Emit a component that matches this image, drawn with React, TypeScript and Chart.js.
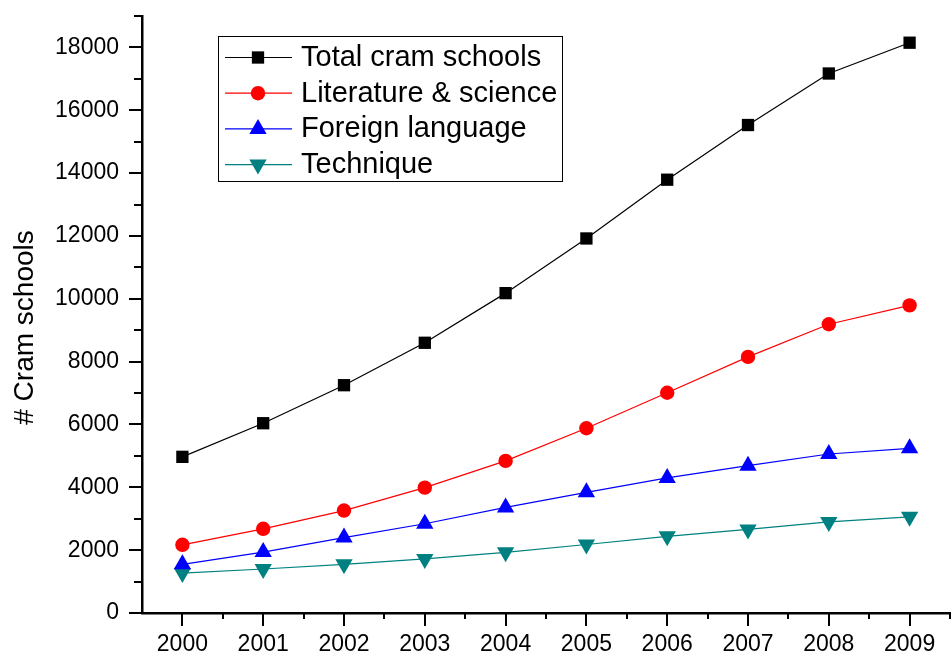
import React, { useEffect, useRef } from 'react';
import { Chart, registerables } from 'chart.js';
import { drawPoint } from 'chart.js/helpers';

Chart.register(...registerables);

const years = [2000, 2001, 2002, 2003, 2004, 2005, 2006, 2007, 2008, 2009];
const totalSchools = [4970, 6040, 7250, 8600, 10180, 11920, 13790, 15530, 17170, 18150];
const literatureScience = [2170, 2680, 3260, 3990, 4840, 5880, 7010, 8150, 9190, 9790];
const foreignLanguage = [1550, 1940, 2400, 2840, 3360, 3840, 4300, 4690, 5060, 5240];
const techniqueSchools = [1270, 1400, 1550, 1720, 1930, 2180, 2440, 2660, 2900, 3060];

const seriesLabels = ['Total cram schools', 'Literature & science', 'Foreign language', 'Technique'];
const yTickValues = [0, 2000, 4000, 6000, 8000, 10000, 12000, 14000, 16000, 18000];
const yMinorTickValues = [1000, 3000, 5000, 7000, 9000, 11000, 13000, 15000, 17000, 19000];
const yAxisTitle = '# Cram schools';

const FONT = '"Liberation Sans", Arial, Helvetica, sans-serif';

const axisTicksPlugin = {
  id: 'axisTicks',
  afterDraw(chart: any) {
    const { ctx, chartArea } = chart;
    const xs = chart.scales.x;
    const ys = chart.scales.y;
    ctx.save();
    ctx.strokeStyle = '#000';
    ctx.lineWidth = 2;
    ctx.lineCap = 'butt';
    const left = chartArea.left;
    const bottom = chartArea.bottom;
    const hline = (v: number, len: number) => {
      const p = Math.round(ys.getPixelForValue(v));
      ctx.beginPath();
      ctx.moveTo(left - len, p);
      ctx.lineTo(left, p);
      ctx.stroke();
    };
    const vline = (v: number, len: number) => {
      const p = Math.round(xs.getPixelForValue(v));
      ctx.beginPath();
      ctx.moveTo(p, bottom);
      ctx.lineTo(p, bottom + len);
      ctx.stroke();
    };
    yTickValues.forEach((v) => hline(v, 13));
    yMinorTickValues.forEach((v) => hline(v, 8));
    years.forEach((v) => vline(v, 13));
    years.forEach((v) => vline(v + 0.5, 6));
    ctx.restore();
  },
};

const yTitlePlugin = {
  id: 'yTitle',
  afterDraw(chart: any) {
    const { ctx, chartArea } = chart;
    ctx.save();
    ctx.translate(33, (chartArea.top + chartArea.bottom) / 2 + 13);
    ctx.rotate(-Math.PI / 2);
    ctx.fillStyle = '#000';
    ctx.font = `28px ${FONT}`;
    ctx.textAlign = 'center';
    ctx.textBaseline = 'alphabetic';
    ctx.fillText(yAxisTitle, 0, 0);
    ctx.restore();
  },
};

const boxLegendPlugin = {
  id: 'boxLegend',
  afterDraw(chart: any) {
    const { ctx } = chart;
    const boxX = 218.5;
    const boxY = 36.5;
    const boxW = 344;
    const boxH = 145;
    ctx.save();
    ctx.fillStyle = '#fff';
    ctx.fillRect(boxX, boxY, boxW, boxH);
    ctx.strokeStyle = '#000';
    ctx.lineWidth = 1;
    ctx.strokeRect(boxX, boxY, boxW, boxH);
    chart.data.datasets.forEach((ds: any, i: number) => {
      const y = 57.5 + i * 35.7;
      ctx.strokeStyle = ds.borderColor;
      ctx.lineWidth = ds.borderWidth;
      ctx.beginPath();
      ctx.moveTo(225, y);
      ctx.lineTo(292, y);
      ctx.stroke();
      ctx.fillStyle = ds.pointBackgroundColor;
      ctx.strokeStyle = ds.pointBackgroundColor;
      drawPoint(ctx, {
        pointStyle: ds.pointStyle,
        rotation: ds.pointRotation || 0,
        radius: ds.pointRadius,
        borderWidth: 0,
      } as any, 258, y);
      ctx.fillStyle = '#000';
      ctx.font = `29px ${FONT}`;
      ctx.textAlign = 'left';
      ctx.textBaseline = 'alphabetic';
      ctx.fillText(ds.label, 301, y + 8.5);
    });
    ctx.restore();
  },
};

function toPoints(values: number[]) {
  return years.map((x, i) => ({ x, y: values[i] }));
}

function makeDataset(label: string, values: number[], color: string, style: string, radius: number, rotation = 0) {
  return {
    label,
    data: toPoints(values),
    borderColor: color,
    borderWidth: 1.2,
    pointBackgroundColor: color,
    pointBorderColor: color,
    pointBorderWidth: 0,
    pointStyle: style,
    pointRadius: radius,
    pointRotation: rotation,
    fill: false,
    tension: 0,
  };
}

export default function App() {
  const canvasRef = useRef<HTMLCanvasElement | null>(null);

  useEffect(() => {
    document.body.style.margin = '0';
    const canvas = canvasRef.current;
    if (!canvas) return;
    const tickFont = { family: FONT, size: 23 };
    const chart = new Chart(canvas, {
      type: 'line',
      data: {
        datasets: [
          makeDataset(seriesLabels[0], totalSchools, '#000000', 'rect', 8.7),
          makeDataset(seriesLabels[1], literatureScience, '#ff0000', 'circle', 7.2),
          makeDataset(seriesLabels[2], foreignLanguage, '#0000ff', 'triangle', 10),
          makeDataset(seriesLabels[3], techniqueSchools, '#008080', 'triangle', 10, 180),
        ] as any,
      },
      options: {
        responsive: false,
        animation: false,
        devicePixelRatio: 1,
        layout: { autoPadding: false, padding: { top: 16, right: 2, left: 0, bottom: 0 } },
        plugins: {
          legend: { display: false },
          tooltip: { enabled: false },
          title: { display: false },
        },
        scales: {
          x: {
            type: 'linear',
            min: 1999.5,
            max: 2009.5,
            afterBuildTicks: (s: any) => {
              s.ticks = years.map((v) => ({ value: v }));
            },
            afterFit: (s: any) => {
              s.height = 45;
              s.paddingLeft = 0;
              s.paddingRight = 0;
              s.paddingTop = 0;
              s.paddingBottom = 0;
            },
            grid: { display: false, drawTicks: false, tickLength: 0 },
            border: { display: true, color: '#000', width: 2.5 },
            ticks: {
              padding: 18,
              color: '#000',
              font: tickFont,
              maxRotation: 0,
              autoSkip: false,
              callback: (v: any) => String(v),
            },
          },
          y: {
            type: 'linear',
            min: 0,
            max: 19000,
            afterBuildTicks: (s: any) => {
              s.ticks = yTickValues.map((v) => ({ value: v }));
            },
            afterFit: (s: any) => {
              s.width = 142;
              s.paddingLeft = 0;
              s.paddingRight = 0;
              s.paddingTop = 0;
              s.paddingBottom = 0;
            },
            grid: { display: false, drawTicks: false, tickLength: 0 },
            border: { display: true, color: '#000', width: 2.5 },
            ticks: {
              padding: 23,
              color: '#000',
              font: tickFont,
              autoSkip: false,
              callback: (v: any) => String(v),
            },
          },
        },
      } as any,
      plugins: [axisTicksPlugin, yTitlePlugin, boxLegendPlugin],
    });
    return () => chart.destroy();
  }, []);

  return (
    <div style={{ position: 'absolute', left: 0, top: 0, width: 952, height: 658, background: '#fff' }}>
      <canvas ref={canvasRef} width={952} height={658} style={{ display: 'block', width: 952, height: 658 }} />
    </div>
  );
}
